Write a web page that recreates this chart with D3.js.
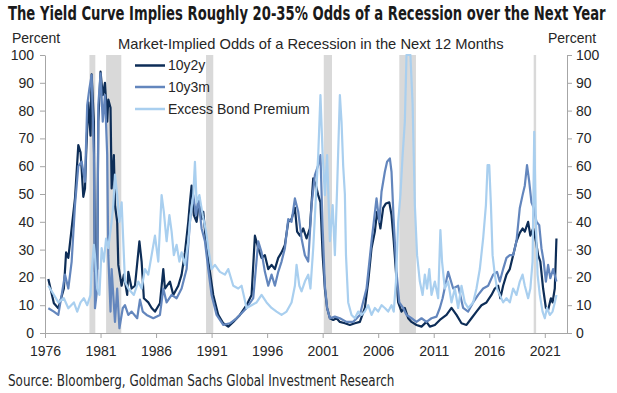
<!DOCTYPE html>
<html><head><meta charset="utf-8">
<script src="https://cdn.jsdelivr.net/npm/d3@7"></script>
<style>body{margin:0;background:#fff}</style>
</head><body><svg id="c" width="617" height="393"></svg>
<script>
const titleText = "The Yield Curve Implies Roughly 20-35% Odds of a Recession over the Next Year";
const subtitleText = "Market-Implied  Odds of a Recession in the Next 12 Months";
const sourceText = "Source: Bloomberg, Goldman Sachs Global Investment Research";
const seriesNames = ["10y2y", "10y3m", "Excess Bond Premium"];
const xTicks = [1976, 1981, 1986, 1991, 1996, 2001, 2006, 2011, 2016, 2021];
const yTicks = [0, 10, 20, 30, 40, 50, 60, 70, 80, 90, 100];
const recessions = [[1980.0,1980.53],[1981.5,1982.87],[1990.5,1991.15],[2001.1,2001.84],[2007.9,2009.4],[2020.0,2020.22]];

const s10y2y = [[1976.3,19.4],[1976.8,10.7],[1977.2,8.9],[1977.7,16],[1977.9,29],[1978.1,27],[1978.4,37.6],[1978.7,48.4],[1979.0,67.6],[1979.2,65],[1979.3,59],[1979.45,49],[1979.6,52],[1979.7,64],[1979.9,83],[1980.1,71],[1980.2,93],[1980.4,76],[1980.5,22],[1980.7,23],[1980.8,76],[1981.0,94],[1981.2,85.6],[1981.4,90],[1981.6,76],[1981.7,84],[1981.9,81],[1982.0,52],[1982.2,64],[1982.3,46],[1982.5,40],[1982.6,24.5],[1982.9,17],[1983.1,21],[1983.4,13.7],[1983.5,22],[1983.8,16],[1984.1,17],[1984.5,33],[1984.7,25.7],[1984.9,12.5],[1985.3,11],[1985.6,9],[1985.9,7.7],[1986.35,10.7],[1986.65,23],[1986.8,16],[1987.25,18.5],[1987.55,13.7],[1988.0,17],[1988.3,21],[1988.6,29],[1988.9,40],[1989.05,47],[1989.2,53],[1989.4,42.4],[1989.65,40],[1989.9,48.4],[1990.1,41],[1990.25,43.6],[1990.55,30.5],[1990.85,22],[1991.15,13.7],[1991.6,6.5],[1992.05,3.5],[1992.5,2.3],[1992.95,4],[1993.55,6.5],[1994.15,10],[1994.6,13.7],[1994.9,35],[1995.2,30.5],[1995.5,27],[1995.8,28],[1996.1,23],[1996.4,24.5],[1996.7,23],[1997.0,27],[1997.3,29],[1997.6,31.7],[1997.9,40],[1998.2,41],[1998.5,45],[1998.7,36.5],[1998.95,35],[1999.25,37.6],[1999.55,34],[1999.85,37.6],[2000.15,55.6],[2000.4,53],[2000.6,49.6],[2000.8,47],[2001.0,28],[2001.2,16],[2001.4,9],[2001.65,5.3],[2001.95,4.7],[2002.25,5.3],[2002.55,4],[2003.0,3.5],[2003.45,2.9],[2003.9,3.5],[2004.35,4],[2004.8,9],[2005.1,18.5],[2005.4,30.5],[2005.7,36.5],[2005.9,43.6],[2006.1,40],[2006.2,37.6],[2006.45,45],[2006.7,46.6],[2007.0,47],[2007.2,42.4],[2007.4,33],[2007.6,22],[2007.8,11],[2008.1,7.7],[2008.4,9],[2008.7,5.3],[2009.0,4],[2009.45,2.9],[2009.9,2.3],[2010.35,4],[2010.65,2.3],[2011.1,2.9],[2011.55,4.7],[2012.15,6.5],[2012.6,9],[2013.05,6.5],[2013.5,3.5],[2013.95,2.9],[2014.4,5.3],[2014.85,7.7],[2015.3,10],[2015.75,11],[2016.2,13.7],[2016.5,16],[2016.8,17],[2017.0,12.5],[2017.25,17],[2017.55,21],[2017.85,23],[2018.15,28],[2018.45,33],[2018.75,36],[2019.0,37.6],[2019.2,36.5],[2019.5,40],[2019.7,35],[2019.95,37.6],[2020.2,33],[2020.4,28],[2020.6,25.7],[2020.85,16],[2021.1,9],[2021.3,8.3],[2021.55,12.5],[2021.7,11],[2021.9,16],[2022.05,34]];

const s10y3m = [[1976.3,8.9],[1976.8,7.7],[1977.2,6.5],[1977.5,13.7],[1977.8,21],[1978.1,16],[1978.4,25.7],[1978.7,46],[1979.0,60],[1979.3,61.6],[1979.6,54.4],[1979.8,82],[1980.0,88],[1980.2,92.8],[1980.4,64],[1980.5,8.9],[1980.7,16],[1980.8,82],[1981.0,93.4],[1981.2,76],[1981.4,85.6],[1981.6,64],[1981.7,28],[1981.9,7.7],[1982.0,23],[1982.3,4],[1982.5,16],[1982.7,1.7],[1983.0,8.9],[1983.2,10],[1983.5,6.5],[1983.8,7.7],[1984.3,5.3],[1984.55,12],[1984.8,7.7],[1985.15,6.5],[1985.75,5.3],[1986.35,6.5],[1986.65,16],[1986.95,11],[1987.4,13.7],[1987.85,12.5],[1988.3,16],[1988.75,23],[1989.05,40],[1989.35,49.6],[1989.6,42.4],[1989.8,48.4],[1990.1,37.6],[1990.4,33],[1990.7,23],[1991.0,13.7],[1991.45,6.5],[1992.05,2.9],[1992.65,3.5],[1993.25,5.3],[1993.85,7.7],[1994.15,9],[1994.75,12.5],[1995.2,33],[1995.5,29],[1995.8,22],[1996.1,17],[1996.4,21],[1996.7,17],[1997.0,22],[1997.3,25.7],[1997.6,30.5],[1997.9,41],[1998.2,40],[1998.5,48.4],[1998.8,43.6],[1999.1,34],[1999.4,28],[1999.7,25.7],[2000.0,46],[2000.3,56.8],[2000.6,60.4],[2000.8,64],[2001.0,37.6],[2001.2,17],[2001.4,9],[2001.65,5.3],[2002.1,5.9],[2002.55,5.3],[2003.15,4],[2003.75,4],[2004.35,6.5],[2004.95,16],[2005.4,33],[2005.85,48.4],[2006.1,40],[2006.3,50.8],[2006.6,58],[2006.8,61.6],[2007.05,62.8],[2007.2,58],[2007.4,40],[2007.65,22],[2007.9,11],[2008.25,9],[2008.55,6.5],[2009.0,5.3],[2009.45,4],[2009.9,5.3],[2010.35,4],[2010.8,5.3],[2011.25,5.9],[2011.55,9],[2011.8,12.5],[2012.3,22],[2012.75,16],[2013.2,17],[2013.65,9],[2014.1,7.7],[2014.55,11],[2015.0,13.7],[2015.45,16],[2015.9,17],[2016.35,21],[2016.7,22],[2016.95,18.5],[2017.25,23],[2017.55,27],[2017.85,28],[2018.15,28],[2018.45,33],[2018.75,45],[2019.0,49.6],[2019.2,53],[2019.4,60.4],[2019.6,54.4],[2019.8,47],[2020.0,45],[2020.25,40],[2020.5,38.8],[2020.7,30.5],[2020.9,25.7],[2021.1,18.5],[2021.3,24.5],[2021.5,19.7],[2021.75,23],[2022.05,18.5]];

const sEBP = [[1976.3,17],[1976.8,13.7],[1977.2,11],[1977.7,12.5],[1978.1,8.9],[1978.6,11],[1978.9,7.7],[1979.2,11],[1979.5,12.5],[1979.8,10],[1980.1,13.7],[1980.2,22],[1980.4,31.7],[1980.5,28],[1980.7,16],[1980.9,13.7],[1981.1,30.5],[1981.3,25.7],[1981.5,34],[1981.7,30.5],[1982.0,40],[1982.15,46],[1982.3,57],[1982.5,49.6],[1982.7,40],[1982.9,47],[1983.1,28],[1983.2,18.5],[1983.5,16],[1984.0,13.7],[1984.4,18.5],[1984.7,16],[1985.0,23],[1985.3,21],[1985.6,28],[1985.9,35],[1986.2,25.7],[1986.5,49.6],[1986.7,43.6],[1986.95,33],[1987.2,42.4],[1987.4,36.5],[1987.6,28],[1987.85,31.7],[1988.1,25.7],[1988.3,29],[1988.6,24.5],[1988.9,33],[1989.1,42.4],[1989.35,49.6],[1989.5,61.6],[1989.65,47],[1989.9,49.6],[1990.2,42.4],[1990.5,36.5],[1990.7,30.5],[1991.0,23],[1991.3,24.5],[1991.75,22],[1992.2,21],[1992.5,23],[1992.95,17],[1993.4,16],[1993.7,17],[1994.15,9],[1994.6,10],[1995.05,11],[1995.5,13.7],[1995.95,11],[1996.4,9],[1996.85,7.7],[1997.3,6.5],[1997.75,7.7],[1998.2,11],[1998.5,17],[1998.65,24.5],[1998.9,17],[1999.1,15],[1999.4,18.5],[1999.7,21],[1999.9,16],[2000.15,30.5],[2000.4,49.6],[2000.6,64],[2000.8,85.6],[2001.0,64],[2001.2,49.6],[2001.4,64],[2001.65,33],[2001.9,46],[2002.1,28],[2002.3,52],[2002.55,85.6],[2002.7,76],[2002.85,60],[2003.0,50],[2003.1,28],[2003.3,11],[2003.6,6.5],[2003.9,5.3],[2004.2,7.7],[2004.5,6.5],[2004.8,7.7],[2005.1,10],[2005.4,6.5],[2005.7,9],[2006.0,7.7],[2006.3,10],[2006.6,9],[2006.9,7.7],[2007.2,10],[2007.4,7.7],[2007.6,18.5],[2007.8,40],[2008.0,49.6],[2008.2,64],[2008.4,76],[2008.55,100],[2008.9,100],[2009.1,82],[2009.3,46],[2009.5,28],[2009.75,18.5],[2010.0,13.7],[2010.2,21],[2010.4,16],[2010.6,23],[2010.8,13.7],[2011.1,18.5],[2011.4,12.5],[2011.6,37],[2011.75,25.7],[2012.0,16],[2012.3,18.5],[2012.6,11],[2012.9,16],[2013.2,9],[2013.5,17],[2013.8,11],[2014.1,9],[2014.55,11],[2014.85,16],[2015.15,23],[2015.45,34],[2015.7,46],[2015.85,60.4],[2016.0,60.4],[2016.15,46],[2016.3,28],[2016.5,21],[2016.7,16],[2016.95,13.7],[2017.25,11],[2017.55,12.5],[2017.85,11],[2018.15,16],[2018.45,13.7],[2018.75,18.5],[2019.0,21],[2019.2,17],[2019.5,12.5],[2019.7,16],[2019.9,25.7],[2020.05,72.4],[2020.2,40],[2020.35,21],[2020.55,13.7],[2020.8,7.7],[2021.0,5.3],[2021.2,9],[2021.45,6.5],[2021.7,7.7],[2021.9,11],[2022.05,13.7]];

const colors = ["#0d2d57", "#6386bd", "#a9cfef"];

const svg = d3.select("#c");
const pLeft = 45, pRight = 567, pTop = 55, pBottom = 333;
const x = d3.scaleLinear().domain([1976, 2023]).range([pLeft, pRight]);
const y = d3.scaleLinear().domain([0, 100]).range([pBottom, pTop]);
const axisColor = "#a6a6a6";
const labelFont = "'Liberation Sans', Arial, sans-serif";
const condFont = "'Liberation Sans Narrow','DejaVu Sans Condensed','Roboto Condensed','Open Sans',sans-serif";

// text fitted to a width by horizontal scaling (keeps real bbox)
function fitText(str, tx, ty, width, attrs) {
  const g = svg.append("g");
  const t = g.append("text").text(str);
  Object.entries(attrs).forEach(([k, v]) => t.attr(k, v));
  const w = t.node().getComputedTextLength();
  const k = width / w;
  g.attr("transform", `translate(${tx},${ty}) scale(${k},1)`);
  return t;
}

fitText(titleText, 8, 20, 598, {"font-family": condFont, "font-weight": 700, "font-size": 19, "fill": "#1a1a1a"});

svg.append("g").selectAll("rect").data(recessions).join("rect")
  .attr("x", d => x(d[0])).attr("width", d => x(d[1]) - x(d[0]))
  .attr("y", y(100)).attr("height", y(0) - y(100)).attr("fill", "#d9d9d9");

const gL = svg.append("g").attr("transform", `translate(${pLeft},0)`)
  .call(d3.axisLeft(y).tickValues(yTicks).tickSize(5).tickSizeOuter(0).tickPadding(6));
const gR = svg.append("g").attr("transform", `translate(${pRight},0)`)
  .call(d3.axisRight(y).tickValues(yTicks).tickSize(5).tickSizeOuter(0).tickPadding(4));
const gX = svg.append("g").attr("transform", `translate(0,${pBottom})`)
  .call(d3.axisBottom(x).tickValues(xTicks).tickFormat(d3.format("d")).tickSize(5).tickSizeOuter(0).tickPadding(8));
[gL, gR, gX].forEach(g => {
  g.selectAll("path.domain").attr("stroke", axisColor).attr("stroke-width", 1);
  g.selectAll(".tick line").attr("stroke", axisColor);
  g.selectAll(".tick text").attr("font-family", labelFont).attr("font-size", 14).attr("fill", "#262626");
});

svg.append("clipPath").attr("id", "pa").append("rect")
  .attr("x", pLeft).attr("y", pTop - 1).attr("width", pRight - pLeft).attr("height", pBottom - pTop + 1);
const line = d3.line().x(d => x(d[0])).y(d => y(d[1]));
const series = [s10y2y, s10y3m, sEBP];
const gS = svg.append("g").attr("clip-path", "url(#pa)");
series.forEach((s, i) => {
  gS.append("path").datum(s).attr("d", line).attr("fill", "none")
    .attr("stroke", colors[i]).attr("stroke-width", 2.2).attr("stroke-linejoin", "round");
});

svg.append("text").attr("x", 36).attr("y", 43).attr("text-anchor", "middle").text("Percent")
  .attr("font-family", labelFont).attr("font-size", 14).attr("fill", "#262626");
svg.append("text").attr("x", 572).attr("y", 43).attr("text-anchor", "middle").text("Percent")
  .attr("font-family", labelFont).attr("font-size", 14).attr("fill", "#262626");
fitText(subtitleText, 118, 49, 386, {"font-family": labelFont, "font-size": 14, "fill": "#262626"});

const legY = [65.5, 87, 109];
const lg = svg.append("g");
seriesNames.forEach((n, i) => {
  lg.append("line").attr("x1", 135).attr("x2", 165).attr("y1", legY[i]).attr("y2", legY[i])
    .attr("stroke", colors[i]).attr("stroke-width", 2.5);
  lg.append("text").attr("x", 168).attr("y", legY[i]).attr("dy", "0.35em").text(n)
    .attr("font-family", labelFont).attr("font-size", 14).attr("fill", "#262626");
});

fitText(sourceText, 8, 386, 387, {"font-family": condFont, "font-size": 15, "fill": "#262626"});
</script></body></html>
